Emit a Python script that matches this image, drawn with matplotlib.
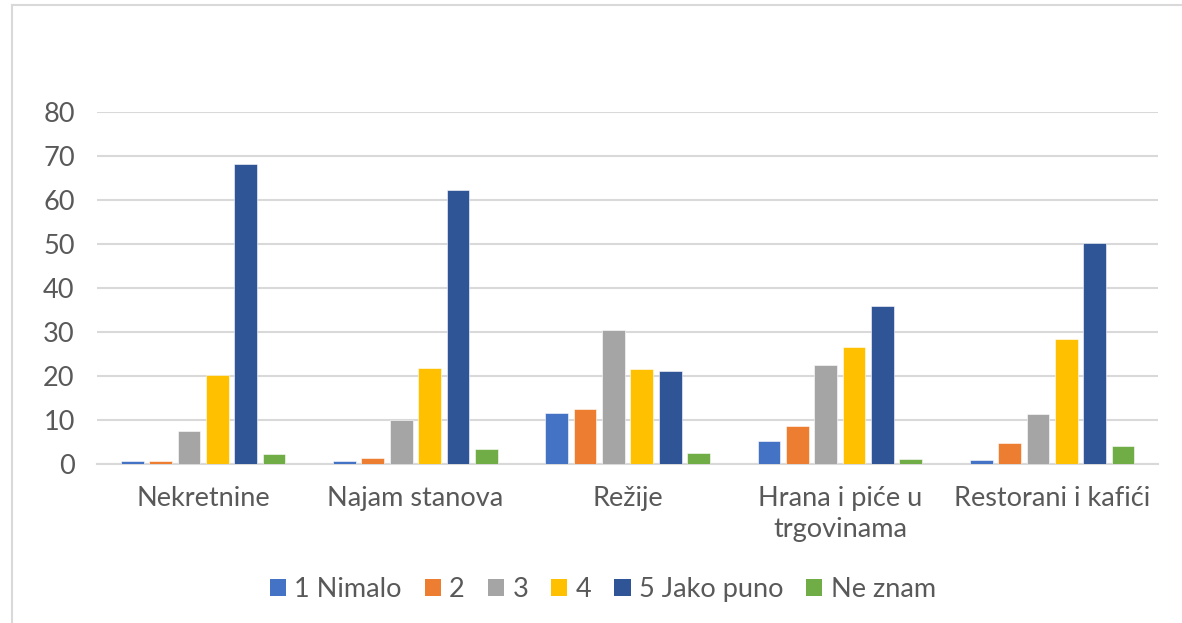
import numpy as np
import matplotlib.pyplot as plt
from matplotlib.patches import Patch
from matplotlib.lines import Line2D

plt.rcParams.update({
    'font.family': ['Lato', 'DejaVu Sans'],
    'font.size': 19.5,
})

CATEGORIES = ['Nekretnine', 'Najam stanova', 'Režije',
              'Hrana i piće u\ntrgovinama', 'Restorani i kafići']
SERIES = ['1 Nimalo', '2', '3', '4', '5 Jako puno', 'Ne znam']
COLORS = ['#4472C4', '#ED7D31', '#A5A5A5', '#FFC000', '#2F5597', '#70AD47']

s1 = [0.6, 0.6, 11.5, 5.2, 1.0]
s2 = [0.6, 1.4, 12.4, 8.6, 4.7]
s3 = [7.4, 9.9, 30.5, 22.4, 11.3]
s4 = [20.2, 21.9, 21.5, 26.5, 28.5]
s5 = [68.2, 62.3, 21.2, 35.9, 50.2]
s6 = [2.2, 3.4, 2.6, 1.1, 4.2]
VALUES = [s1, s2, s3, s4, s5, s6]

TEXT = '#595959'
GRID = '#d9d9d9'

fig = plt.figure(figsize=(11.82, 6.23), dpi=100)
ax = fig.add_axes([0.082, 0.2552, 0.898, 0.565])

x = np.arange(len(CATEGORIES))
slot = 0.1335
width = 0.107
for j, (name, vals) in enumerate(zip(SERIES, VALUES)):
    ax.bar(x + (j - 2.5) * slot, vals, width, color=COLORS[j],
           edgecolor='white', linewidth=0.4, label=name, zorder=3)

ax.set_xlim(-0.5, len(CATEGORIES) - 0.5)
ax.set_ylim(0, 80)
ax.set_yticks(range(0, 81, 10))
ax.set_xticks(x)
ax.set_xticklabels(CATEGORIES, linespacing=1.3)
ax.tick_params(axis='x', length=0, pad=16, colors=TEXT, labelsize=19.5)
ax.tick_params(axis='y', length=0, pad=16, colors=TEXT, labelsize=19.5)
ax.yaxis.grid(True, color=GRID, linewidth=1.5, zorder=0)
ax.set_axisbelow(True)
for side in ['top', 'right', 'left']:
    ax.spines[side].set_visible(False)
ax.spines['bottom'].set_color(GRID)
ax.spines['bottom'].set_linewidth(1.5)

handles = [Patch(facecolor=c, edgecolor='none') for c in COLORS]
fig.legend(handles, SERIES, loc='center', bbox_to_anchor=(0.510, 0.054),
           ncol=6, frameon=False, handlelength=0.6, handleheight=0.6,
           handletextpad=0.3, columnspacing=0.85, labelcolor=TEXT, fontsize=19.5)

# chart frame (top and left edges visible in the crop)
fig.add_artist(Line2D([12 / 1182, 12 / 1182], [0, 1 - 5 / 623],
                      transform=fig.transFigure, color=GRID, linewidth=1.5))
fig.add_artist(Line2D([12 / 1182, 1], [1 - 5 / 623, 1 - 5 / 623],
                      transform=fig.transFigure, color=GRID, linewidth=1.5))

fig.savefig('out.png', dpi=100, facecolor='white')
